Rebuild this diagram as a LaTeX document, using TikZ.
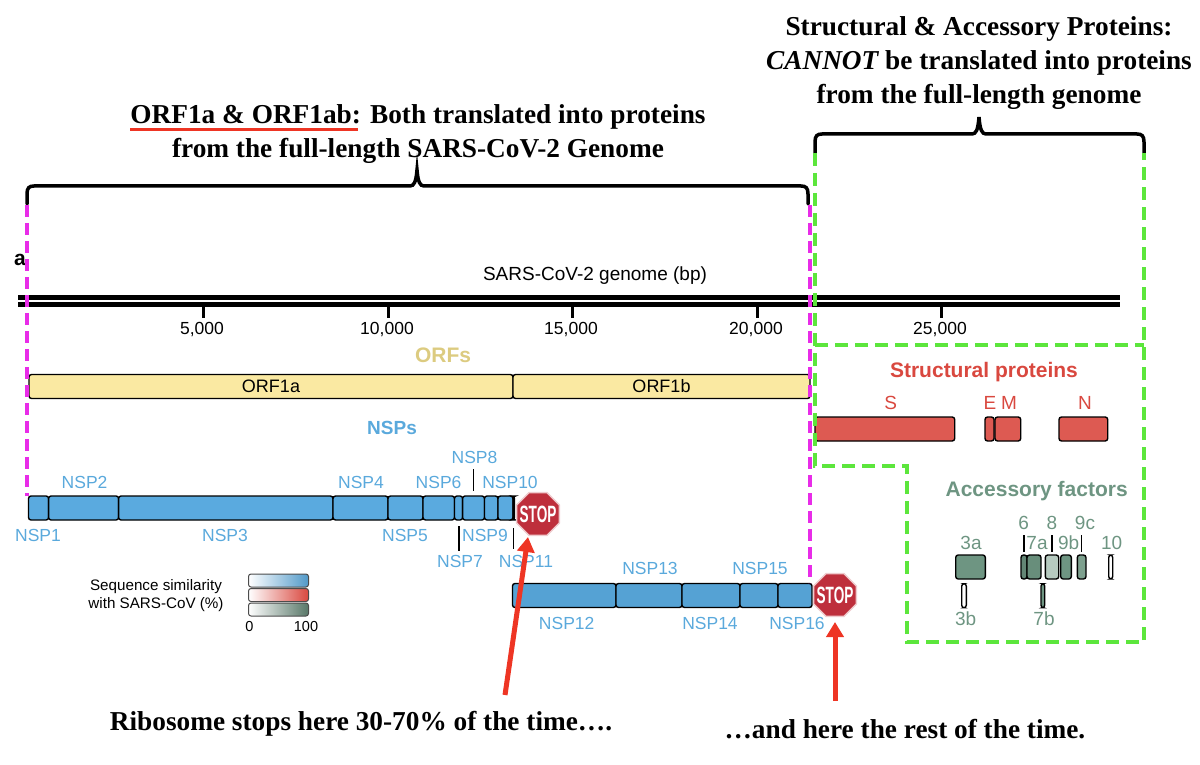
\documentclass[tikz,border=0pt]{standalone}
\usepackage{fontspec}
\setmainfont{Liberation Sans}
\newfontfamily\notefont{Liberation Serif}
\usetikzlibrary{arrows.meta,shapes.geometric}
\definecolor{nspblue}{HTML}{5AA9DC}
\definecolor{nspfill}{HTML}{5AAADF}
\definecolor{orffill}{HTML}{FAE9A2}
\definecolor{orftext}{HTML}{DCCB80}
\definecolor{strucred}{HTML}{D9483F}
\definecolor{accgreen}{HTML}{6E9582}
\definecolor{magentaline}{HTML}{E82CE8}
\definecolor{greenline}{HTML}{5CE63C}
\definecolor{arrowred}{HTML}{EE3524}
\definecolor{stopred}{HTML}{BE2F3C}
\tikzset{
  segbox/.style={draw=black,line width=1.4pt,rounded corners=2.5pt,inner sep=0,outer sep=0,minimum height=24pt,anchor=west},
  tinylabel/.style={font=\fontsize{17.5}{20}\selectfont,inner sep=0},
  headlabel/.style={font=\fontsize{21}{24}\selectfont\bfseries,inner sep=0},
  notelabel/.style={font=\fontsize{27.3}{34}\selectfont\notefont\bfseries,align=center,inner sep=0},
  bracestroke/.style={line width=3.5pt,line cap=round},
  magentadash/.style={magentaline,line width=3.5pt,dash pattern=on 12pt off 6pt},
  greendash/.style={greenline,line width=4.5pt,dash pattern=on 13pt off 7pt},
  stopsign/.style={regular polygon,regular polygon sides=8,minimum size=46.5pt,inner sep=0,fill=stopred,draw=stopred!25,line width=1.5pt,text=white,font=\fontsize{20}{20}\selectfont\bfseries},
  stoparrow/.style={arrowred,line width=5pt,-{Triangle[width=17pt,length=15pt]}},
  legendbar/.style={draw=black!70,line width=1pt,rounded corners=2.5pt,inner sep=0,outer sep=0,minimum width=60pt,minimum height=13pt,left color=white}
}
\begin{document}
\begin{tikzpicture}[x=1pt,y=-1pt]
\useasboundingbox (0,0) rectangle (1200,765);
\node[notelabel] (titleleft) at (418,134) {ORF1a \& ORF1ab: Both translated into proteins\\from the full-length SARS-CoV-2 Genome};
\draw[arrowred,line width=3pt] (130,130) -- (358,130);
\node[notelabel] (titleright) at (979,63) {Structural \& Accessory Proteins:\\{\itshape CANNOT} be translated into proteins\\from the full-length genome};
\draw[bracestroke] (27,204) -- (27,194) .. controls (27,188) and (29,186) .. (34,186) -- (410,186) .. controls (414,186) and (416,182) .. (417,170) .. controls (418,182) and (420,186) .. (424,186) -- (801,186) .. controls (806,186) and (808,188) .. (808,194) -- (808,204);
\draw[bracestroke] (815,153) -- (815,142) .. controls (815,136) and (817,134) .. (822,134) -- (972,134) .. controls (976,134) and (978,130) .. (979,117) .. controls (980,130) and (982,134) .. (986,134) -- (1137,134) .. controls (1142,134) and (1144,136) .. (1144,142) -- (1144,153);
\node[font=\fontsize{21}{21}\selectfont\bfseries,inner sep=0] (panel) at (20,260) {a};
\node[tinylabel,font=\fontsize{19}{22}\selectfont] (genome) at (595,276) {SARS-CoV-2 genome (bp)};
\draw[line width=5pt] (18,297.5) -- (1120,297.5);
\draw[line width=5pt] (18,304.5) -- (1120,304.5);
\foreach \xx/\lab in {203/5{,}000,388/10{,}000,572/15{,}000,757/20{,}000,941/25{,}000} {
  \draw[line width=3pt] (\xx,306) -- (\xx,318);
  \node[tinylabel,anchor=center] at (\xx-1,330) {\lab};
}
\node[headlabel,text=orftext] (orfs) at (443,355) {ORFs};
\node[segbox,fill=orffill,minimum width=484pt] (orfa) at (29,386.5) {\fontsize{18}{20}\selectfont ORF1a};
\node[segbox,fill=orffill,minimum width=297pt] (orfb) at (513,386.5) {\fontsize{18}{20}\selectfont ORF1b};
\node[font=\fontsize{19}{22}\selectfont\bfseries,text=nspblue,inner sep=0] (nsps) at (392,428) {NSPs};
\foreach \nm/\xa/\xb in {1/28.5/48.6,2/48.6/118.6,3/118.6/333,4/333/388,5/388/423,6/423/454.5,7/454.5/462.6,8/462.6/484.5,9/484.5/498,10/498/513,11/513/514.5}
  \node[segbox,fill=nspfill,minimum width=\xb pt-\xa pt] (nsp\nm) at (\xa,508) {};
\foreach \nm/\xa/\xb in {12/512.5/616,13/616/682,14/682/740,15/740/778,16/778/812}
  \node[segbox,fill=nspfill!95!black,minimum width=\xb pt-\xa pt] (nsp\nm) at (\xa,595.5) {};
\foreach \nm/\xx/\yy in {1/38/535,2/84.6/482,3/225/535,4/361/482,5/405/535,6/438.6/482,7/460/561,8/474.5/457,9/485/535,10/510/482,11/526/561,12/566.7/623,13/650/568,14/710/623,15/760/568,16/797/623}
  \node[tinylabel,text=nspblue] (lab\nm) at (\xx,\yy) {NSP\nm};
\draw[line width=1.2pt] (473.4,469) -- (473.4,491);
\draw[line width=1.2pt] (459,526) -- (459,551);
\draw[line width=1.2pt] (513.6,528) -- (513.6,549);
\draw[magentadash] (27,205) -- (27,496);
\draw[magentadash] (810,205) -- (810,583);
\node[font=\fontsize{15.2}{18}\selectfont,align=center,inner sep=0] (legendtext) at (156,596) {Sequence similarity\\with SARS-CoV (\%)};
\node[legendbar,right color=nspfill!90!black] (legendblue) at (278.5,580.5) {};
\node[legendbar,right color=strucred] (legendred) at (278.5,595) {};
\node[legendbar,right color=accgreen!80!black] (legendgreen) at (278.5,609.5) {};
\node[font=\fontsize{14.5}{17}\selectfont,inner sep=0] (legendmin) at (249.5,627) {0};
\node[font=\fontsize{14.5}{17}\selectfont,inner sep=0] (legendmax) at (306,627) {100};
\node[headlabel,text=strucred] (struct) at (984,372.5) {Structural proteins};
\foreach \nm/\xa/\xb/\xx in {S/815/954.7/890.7,E/985/994/990,M/995/1020.7/1009,N/1059/1107.7/1085} {
  \node[segbox,fill=strucred!90!white,minimum width=\xb pt-\xa pt] (box\nm) at (\xa,429) {};
  \node[tinylabel,text=strucred,font=\fontsize{19}{22}\selectfont] (lab\nm) at (\xx,403) {\nm};
}
\draw[greendash] (815,153) -- (815,466) -- (907,466) -- (907,642) -- (1144,642) -- (1144,153);
\draw[greendash] (815,345) -- (1144,345);
\node[headlabel,text=accgreen] (access) at (1036.7,491.5) {Accessory factors};
\foreach \nm/\xa/\xb/\colr in {a/955.7/985.3/accgreen,b/1021/1027/accgreen!90!black,c/1027/1041/accgreen!95!black,d/1045.3/1058.7/accgreen!50!white,e/1060.7/1071.3/accgreen,f/1077.3/1086/accgreen!90!white,g/1108.7/1112.7/white}
  \node[segbox,fill=\colr,minimum width=\xb pt-\xa pt] (acc\nm) at (\xa,567) {};
\node[segbox,fill=white,minimum width=4.6pt] (accb) at (961.7,595.7) {};
\node[segbox,fill=accgreen,minimum width=3.7pt] (accs) at (1041,595.7) {};
\foreach \lab/\xx/\yy in {3a/971/543,3b/965.7/619,7b/1044/619,6/1023.7/523,7a/1037/543,8/1052/523,9b/1068.7/543,9c/1085/523,10/1111.7/543}
  \node[tinylabel,text=accgreen,font=\fontsize{19}{22}\selectfont] (acclab\lab) at (\xx,\yy) {\lab};
\foreach \xx in {1024,1052,1081.7}
  \draw[line width=1.2pt] (\xx,535) -- (\xx,552);
\node[stopsign] (stopa) at (538,514) {\makebox[0pt]{\smash{\raisebox{-8.5pt}{\scalebox{.68}[1.18]{STOP}}}}};
\node[stopsign] (stopb) at (835,595) {\makebox[0pt]{\smash{\raisebox{-8.5pt}{\scalebox{.68}[1.18]{STOP}}}}};
\coordinate (tailone) at (505,695);
\coordinate (tipone) at (528,537);
\coordinate (tailtwo) at (835,701);
\coordinate (tiptwo) at (835,622);
\draw[stoparrow] (tailone) -- (tipone);
\draw[stoparrow] (tailtwo) -- (tiptwo);
\node[notelabel] (noteone) at (361,724) {Ribosome stops here 30-70\% of the time….};
\node[notelabel] (notetwo) at (905,729) {…and here the rest of the time.};
\end{tikzpicture}
\end{document}
